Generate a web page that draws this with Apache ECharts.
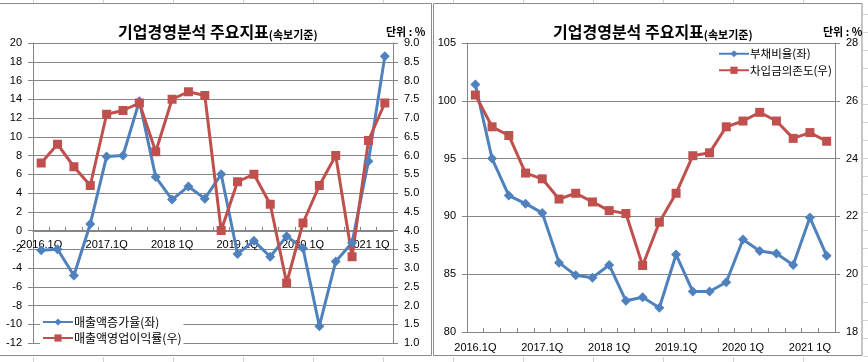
<!DOCTYPE html>
<html>
<head>
<meta charset="utf-8">
<script src="https://cdn.jsdelivr.net/npm/echarts@6/dist/echarts.min.js"></script>
<style>
html,body{margin:0;padding:0;background:#fff;}
#c{width:868px;height:362px;}
</style>
</head>
<body>
<div id="c"></div>
<script>
// ---- data ----
const categories = ['2016.1Q','2016.2Q','2016.3Q','2016.4Q','2017.1Q','2017.2Q','2017.3Q','2017.4Q',
  '2018.1Q','2018.2Q','2018.3Q','2018.4Q','2019.1Q','2019.2Q','2019.3Q','2019.4Q',
  '2020.1Q','2020.2Q','2020.3Q','2020.4Q','2021.1Q','2021.2Q'];
const xTickLabels = ['2016.1Q','','','','2017.1Q','','','','2018 1Q','','','','2019.1Q','','','',
  '2020 1Q','','','','2021 1Q',''];
const salesGrowth = [-2.1, -2.0, -4.8, 0.7, 7.9, 8.0, 13.8, 5.7, 3.3, 4.7, 3.4, 6.0,
  -2.5, -1.1, -2.8, -0.6, -1.9, -10.2, -3.3, -1.3, 7.4, 18.6];
const opMargin = [5.8, 6.3, 5.7, 5.2, 7.1, 7.2, 7.4, 6.1, 7.5, 7.7, 7.6, 4.0,
  5.3, 5.5, 4.7, 2.6, 4.2, 5.2, 6.0, 3.3, 6.4, 7.4];
const debtRatio = [101.4, 95.0, 91.8, 91.1, 90.3, 86.0, 84.9, 84.7, 85.8, 82.7, 83.0, 82.1,
  86.7, 83.5, 83.5, 84.3, 88.0, 87.0, 86.8, 85.8, 89.9, 86.6];
const borrowDep = [26.2, 25.1, 24.8, 23.5, 23.3, 22.6, 22.8, 22.5, 22.2, 22.1, 20.3, 21.8,
  22.8, 24.1, 24.2, 25.1, 25.3, 25.6, 25.3, 24.7, 24.9, 24.6];
const seriesNames = ['매출액증가율(좌)', '매출액영업이익률(우)', '부채비율(좌)', '차입금의존도(우)'];
const titleMain = '기업경영분석 주요지표';
const titleSub = '(속보기준)';
const unitText = '단위 : %';

// ---- styling ----
const BLUE = '#4F81BD', RED = '#C0504D', AX = '#868686';
const FONT = '"Liberation Sans", "Noto Sans CJK KR", sans-serif';
const KFONT = '"Noto Sans CJK KR", sans-serif';

const chart = echarts.init(document.getElementById('c'), null, {renderer: 'canvas'});

function titleObj(left) {
  return {
    left: left, top: 13,
    text: '{a|' + titleMain + '}{b|' + titleSub + '}',
    textStyle: {
      rich: {
        a: {fontSize: 16, fontWeight: 'bold', fontFamily: KFONT, color: '#000', lineHeight: 22, verticalAlign: 'bottom'},
        b: {fontSize: 11, fontFamily: KFONT, color: '#000', lineHeight: 18, verticalAlign: 'bottom'}
      }
    }
  };
}
function unitObj(left) {
  return {left: left, top: 21, text: unitText,
    textStyle: {fontSize: 11, fontWeight: 'bold', fontFamily: KFONT, color: '#000'}};
}
function xAx(grid, margin) {
  return {
    type: 'category', gridIndex: grid, data: categories, boundaryGap: true, position: 'bottom', offset: 0,
    axisLine: {show: true, onZero: false, lineStyle: {color: AX, width: 1}},
    axisTick: {show: true, inside: true, length: 4, interval: 0, lineStyle: {color: AX}},
    axisLabel: {interval: 0, margin: margin, fontSize: 11, fontFamily: FONT, color: '#000',
      formatter: (v, i) => xTickLabels[i]},
    splitLine: {show: false}
  };
}
function yAx(grid, pos, min, max, interval, split, dec) {
  return {
    type: 'value', gridIndex: grid, position: pos, min: min, max: max, interval: interval,
    axisLine: {show: true, lineStyle: {color: AX, width: 1}},
    axisTick: {show: true, inside: false, length: 5, lineStyle: {color: AX}},
    axisLabel: {margin: 11, fontSize: 11, fontFamily: FONT, color: '#000',
      formatter: v => dec ? v.toFixed(dec) : String(v)},
    splitLine: {show: split, lineStyle: {color: AX, width: 1}}
  };
}
function lineSeries(name, data, xi, yi, color, symbol, size) {
  return {
    type: 'line', name: name, data: data, xAxisIndex: xi, yAxisIndex: yi,
    symbol: symbol, symbolSize: size, showSymbol: true,
    lineStyle: {color: color, width: 3}, itemStyle: {color: color, borderWidth: 0},
    emphasis: {disabled: true}, animation: false
  };
}

const option = {
  backgroundColor: '#fff',
  animation: false,
  title: [titleObj(113), unitObj(381), titleObj(548), unitObj(818)],
  grid: [
    {left: 33, top: 43, width: 360, height: 300, containLabel: false},
    {left: 467, top: 43, width: 368, height: 289, containLabel: false}
  ],
  xAxis: [xAx(0, 9), xAx(1, 10)],
  yAxis: [
    yAx(0, 'left', -12, 20, 2, true, 0),
    yAx(0, 'right', 1, 9, 0.5, false, 1),
    yAx(1, 'left', 80, 105, 5, true, 0),
    yAx(1, 'right', 18, 28, 2, false, 0)
  ],
  legend: [
    {data: [seriesNames[0], seriesNames[1]], orient: 'vertical', left: 40, top: 315,
      itemWidth: 30, itemHeight: 9, itemGap: 4, padding: [1, 2], backgroundColor: '#fff',
      textStyle: {fontSize: 12, fontFamily: KFONT, color: '#000', padding: [0, 0, 0, -4]}, selectedMode: false},
    {data: [seriesNames[2], seriesNames[3]], orient: 'vertical', left: 716, top: 47,
      itemWidth: 30, itemHeight: 9, itemGap: 5, padding: [1, 2], backgroundColor: '#fff',
      textStyle: {fontSize: 11.5, fontFamily: KFONT, color: '#000', padding: [0, 0, 0, -4]}, selectedMode: false}
  ],
  series: [
    lineSeries(seriesNames[0], salesGrowth, 0, 0, BLUE, 'diamond', 10),
    lineSeries(seriesNames[1], opMargin, 0, 1, RED, 'rect', 9),
    lineSeries(seriesNames[2], debtRatio, 1, 2, BLUE, 'diamond', 10),
    lineSeries(seriesNames[3], borrowDep, 1, 3, RED, 'rect', 9)
  ],
  graphic: (function () {
    const g = [];
    for (let x = 33; x < 868; x += 70) {
      g.push({type: 'line', silent: true, z: -10, shape: {x1: x + 0.5, y1: 0, x2: x + 0.5, y2: 3}, style: {stroke: '#d4d4d4', lineWidth: 1}});
      g.push({type: 'line', silent: true, z: -10, shape: {x1: x + 0.5, y1: 357, x2: x + 0.5, y2: 362}, style: {stroke: '#d4d4d4', lineWidth: 1}});
    }
    for (let y = 14; y < 362; y += 18) {
      g.push({type: 'line', silent: true, z: -10, shape: {x1: 863, y1: y + 0.5, x2: 868, y2: y + 0.5}, style: {stroke: '#d4d4d4', lineWidth: 1}});
    }
    g.push({type: 'rect', silent: true, z: -5, shape: {x: -2, y: 3.5, width: 433.5, height: 352}, style: {fill: null, stroke: '#8c8c8c', lineWidth: 1}});
    g.push({type: 'rect', silent: true, z: -5, shape: {x: 433.5, y: 3.5, width: 428.5, height: 352}, style: {fill: null, stroke: '#8c8c8c', lineWidth: 1}});
    return g;
  })()
};
chart.setOption(option);

// Place the left chart's category axis on the zero line of its left value axis,
// using the library's own scale to find where zero lies.
const yZero = chart.convertToPixel({yAxisIndex: 0}, 0);
const yBottom = chart.convertToPixel({yAxisIndex: 0}, -12);
chart.setOption({xAxis: [{offset: -(yBottom - yZero)}, {}]});
</script>
</body>
</html>
